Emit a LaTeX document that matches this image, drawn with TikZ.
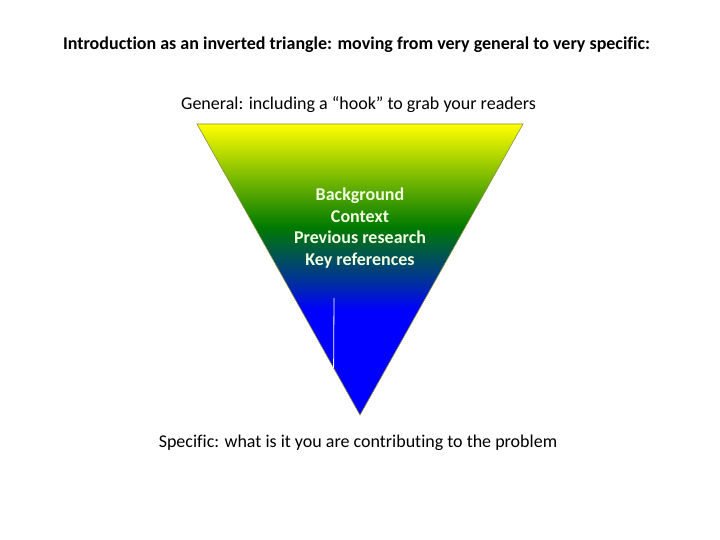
\documentclass[tikz,border=0pt]{standalone}
\usepackage{fontspec}
\setmainfont[Ligatures=NoCommon]{Carlito}
\usetikzlibrary{calc, positioning}
\newcommand\midx{360}

\definecolor{navyblue}{RGB}{0,51,150}
\definecolor{leafgreen}{RGB}{0,122,0}
\definecolor{rimcolor}{RGB}{140,140,60}
\definecolor{paletext}{RGB}{242,255,225}
\pgfdeclareverticalshading{funnel}{100bp}{%
  color(0bp)=(blue); color(25bp)=(blue); color(43bp)=(blue);
  color(48.2bp)=(navyblue); color(57.3bp)=(leafgreen);
  color(75bp)=(yellow); color(100bp)=(yellow)}

\begin{document}
\begin{tikzpicture}[x=1pt, y=-1pt,
    caption/.style={font=\fontsize{18}{21.6}\selectfont},
    inside/.style={font=\bfseries\fontsize{18}{21.8}\selectfont, text=paletext, align=center}]
    \useasboundingbox (0,0) rectangle (720,540);

    %Triangle
    \coordinate (tl) at (197,124);
    \coordinate (tr) at (523,124);
    \coordinate (apex) at (\midx,415);
    \shade[shading=funnel, draw=rimcolor, line width=0.6pt] (tl) -- (tr) -- (apex) -- cycle;

    % white mark on the left side
    \coordinate (markend) at ($(tl)!0.838!(apex)$);
    \coordinate (marktop) at (334,298);
    \draw[white, line width=0.8pt] (marktop) -- (markend);

    \node at (356.5,45) [caption, font=\bfseries\fontsize{18}{21.6}\selectfont] (title) {Introduction as an inverted triangle: moving from very general to very specific:};
    \node at (358.5,105) [caption] (general) {General: including a “hook” to grab your readers};
    \node at (\midx,228) [inside] (body) {Background\\Context\\Previous research\\Key references};
    \node at (358,443) [caption] (specific) {Specific: what is it you are contributing to the problem};
\end{tikzpicture}
\end{document}
